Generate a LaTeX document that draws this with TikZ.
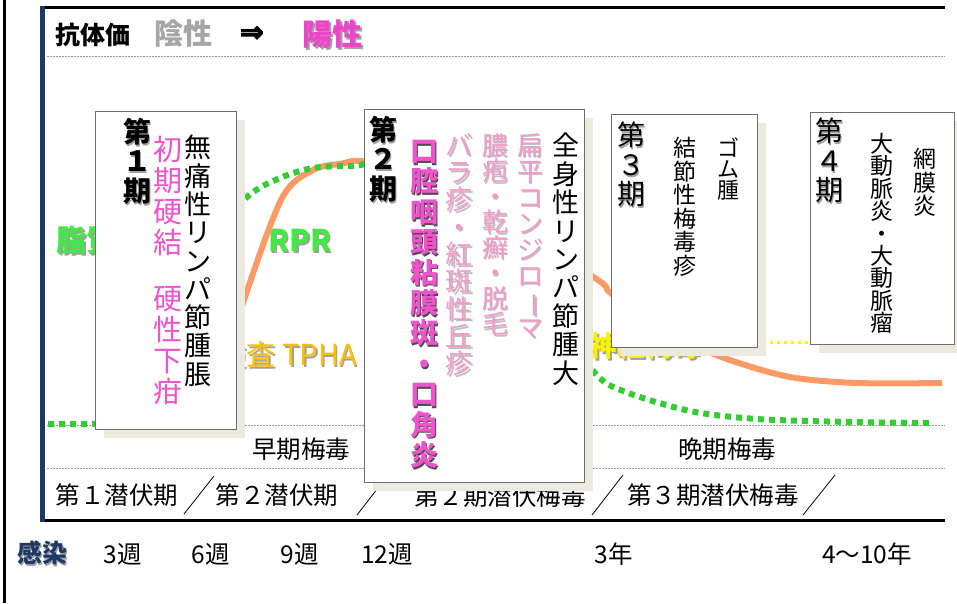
\documentclass[tikz,border=0pt]{standalone}
\usepackage{fontspec}
\setmainfont{Noto Sans CJK JP}
\newfontfamily\arrowfont[FakeBold=4]{DejaVu Sans}
\usepackage{graphicx}
\usetikzlibrary{shadows}
\definecolor{frameNavy}{HTML}{1F3864}
\definecolor{boxShade}{HTML}{ECE9DF}
\definecolor{boxBorder}{HTML}{6E6E6E}
\definecolor{hotPink}{HTML}{EE55CC}
\definecolor{headPink}{HTML}{EE44CC}
\definecolor{lightPink}{HTML}{F39BCB}
\definecolor{rprGreen}{HTML}{44E844}
\definecolor{dotGreen}{HTML}{33CC33}
\definecolor{tphaAmber}{HTML}{FFC000}
\definecolor{curveSalmon}{HTML}{FF9966}
\definecolor{txtShade}{HTML}{A0A0A0}
\definecolor{negGray}{HTML}{A6A6A6}
\newcommand\fs[2]{\fontsize{#1}{#2}\selectfont}
\ExplSyntaxOn
\seq_new:N \l_my_vt_seq
\NewDocumentCommand \vt { m }
 {
  \seq_set_split:Nnn \l_my_vt_seq { } { #1 }
  \seq_use:Nn \l_my_vt_seq { \\ }
 }
\ExplSyntaxOff
% #1 name, #2 position, #3 style, #4 shadow colour, #5 text
\newcommand\shtext[5]{%
  \node[#3,text=#4,xshift=1.8pt,yshift=-1.8pt] (#1s) at (#2) {#5};
  \node[#3] (#1) at (#2) {#5};
}
\tikzset{
  vcol/.style={inner sep=0pt, anchor=north, align=center},
  stagebox/.style={draw=boxBorder, fill=white, line width=1pt, inner sep=0pt,
    drop shadow={shadow xshift=8.5pt, shadow yshift=-8.5pt, fill=boxShade, opacity=1}},
  lbl/.style={inner sep=0pt, font=\fs{24.5}{25}},
  gridline/.style={gray!80, line width=0.7pt, dash pattern=on 1.5pt off 1.5pt},
  slashline/.style={line width=0.8pt},
}
\begin{document}
\begin{tikzpicture}[x=1pt,y=-1pt]
\useasboundingbox (0,0) rectangle (957,603);
\fill[white] (0,0) rectangle (957,603);
% frame
\draw[line width=3pt] (4.5,0) -- (4.5,603);
\draw[line width=3pt] (42,7) -- (945,7);
\draw[line width=3pt] (42,520.5) -- (945,520.5);
\draw[frameNavy, line width=5pt] (42,6) -- (42,522);
\foreach \yy in {56,425,468} \draw[gridline] (47,\yy) -- (945,\yy);
% header
\node[anchor=west, inner sep=0pt, font=\bfseries\fs{25}{25}] (hd1) at (55,35) {抗体価};
\node[anchor=west, inner sep=0pt, font=\bfseries\fs{29}{29}, text=negGray] (hd2) at (154,34) {陰性};
\node[anchor=west, inner sep=0pt, font=\arrowfont\bfseries\fs{28}{28}] (hd3) at (240,34) {⇒};
\shtext{hd4}{302,34}{anchor=west, inner sep=0pt, font=\bfseries\fs{30}{30}, text=headPink}{txtShade}{陽性}
% test labels
\shtext{rpr}{56,240}{anchor=west, inner sep=0pt, font=\bfseries\fs{30}{30}, text=rprGreen}{txtShade}{脂質抗原検査\hspace{32pt}RPR}
\shtext{tpha}{357,355}{anchor=east, inner sep=0pt, font=\fs{29}{29}, text=tphaAmber}{txtShade}{TP抗原検査 TPHA}
\shtext{neuro}{589,346}{anchor=west, inner sep=0pt, font=\bfseries\fs{28}{28}, text=yellow}{txtShade}{神経梅毒}
% curves
\draw[yellow, line width=3pt, dash pattern=on 3pt off 4pt] (700,342) -- (830,342);
\draw[curveSalmon, line width=6pt] plot[smooth, tension=0.5] coordinates {(205,428) (243,303) (282,198) (313,170) (340,164) (370,163) (470,200) (595,278) (612,294) (680,338) (727,359) (790,377) (857,383) (942,383)};
\draw[dotGreen, line width=6pt, dash pattern=on 6pt off 5pt] (48,424) -- (112,424) plot[smooth, tension=0.5] coordinates {(112,424) (200,250) (247,197) (280,178) (313,168) (353,166) (420,168) (540,300) (594,372) (623,391) (690,411) (757,419) (850,422) (930,423)};
% bottom rows
\node[lbl] (early) at (301,449) {早期梅毒};
\node[lbl] (late) at (727,449) {晩期梅毒};
\node[lbl] (lat1) at (117,495) {第１潜伏期};
\node[lbl] (lat2) at (277,495) {第２潜伏期};
\node[lbl] (lat3) at (500,496) {第２期潜伏梅毒};
\node[lbl] (lat4) at (713,495) {第３期潜伏梅毒};
\draw[slashline] (184,514) -- (214,476);
\draw[slashline] (357,515) -- (388,475);
\draw[slashline] (592,515) -- (623,475);
\draw[slashline] (803,515) -- (835,475);
% time axis
\shtext{inf}{42,553}{inner sep=0pt, font=\bfseries\fs{25}{25}, text=frameNavy}{txtShade}{感染}
\node[lbl] (w3) at (123,554) {3週};
\node[lbl] (w6) at (211,554) {6週};
\node[lbl] (w9) at (300,554) {9週};
\node[lbl] (w12) at (387,554) {12週};
\node[lbl] (y3) at (614,554) {3年};
\node[lbl] (y4) at (867,554) {4〜10年};
% stage 1
\node[stagebox, minimum width=141pt, minimum height=318pt] (b1) at (165.5,270) {};
\shtext{s1}{137,118}{vcol, font=\bfseries\fs{28}{29.5}}{txtShade}{\vt{第１期}}
\node[vcol, font=\fs{29}{31}, text=hotPink] (s1a) at (168,136) {\vt{初期硬結}};
\node[vcol, font=\fs{29}{31}, text=hotPink] (s1b) at (168,286) {\vt{硬性下疳}};
\node[vcol, font=\fs{27}{28.3}] (s1c) at (198,135) {\vt{無痛性リンパ節腫脹}};
% stage 2
\node[stagebox, minimum width=220pt, minimum height=373pt] (b2) at (474,295.5) {};
\shtext{s2}{383,116}{vcol, font=\bfseries\fs{28}{29.5}}{txtShade}{\vt{第２期}}
\shtext{s2a}{424,140}{vcol, font=\bfseries\fs{28}{30.4}, text=hotPink}{black!70}{\vt{口腔咽頭粘膜斑・口角炎}}
\shtext{s2b}{459,133}{vcol, font=\fs{27}{27.3}, text=lightPink}{black!25}{\vt{バラ疹・紅斑性丘疹}}
\shtext{s2c}{495,133}{vcol, font=\fs{26}{25.5}, text=lightPink}{black!25}{\vt{膿疱・乾癬・脱毛}}
\shtext{s2d}{530,133}{vcol, font=\fs{26}{26}, text=lightPink}{black!25}{\vt{扁平コンジロ{\rotatebox[origin=c]{-90}{ー}}マ}}
\node[vcol, font=\fs{27}{28.4}] (s2e) at (566,133) {\vt{全身性リンパ節腫大}};
% stage 3
\node[stagebox, minimum width=146pt, minimum height=233pt] (b3) at (684,230.5) {};
\shtext{s3}{631,122}{vcol, font=\fs{28}{29.5}}{txtShade}{\vt{第３期}}
\node[vcol, font=\fs{23}{23.6}] (s3a) at (685,137) {\vt{結節性梅毒疹}};
\node[vcol, font=\fs{22}{21}] (s3b) at (728,138) {\vt{ゴム腫}};
% stage 4
\node[stagebox, minimum width=144pt, minimum height=232pt] (b4) at (882,228) {};
\shtext{s4}{829,118}{vcol, font=\fs{28}{29.5}}{txtShade}{\vt{第４期}}
\node[vcol, font=\fs{23}{22.4}] (s4a) at (882,133) {\vt{大動脈炎・大動脈瘤}};
\node[vcol, font=\fs{23}{23.5}] (s4b) at (925,148) {\vt{網膜炎}};
\end{tikzpicture}
\end{document}
